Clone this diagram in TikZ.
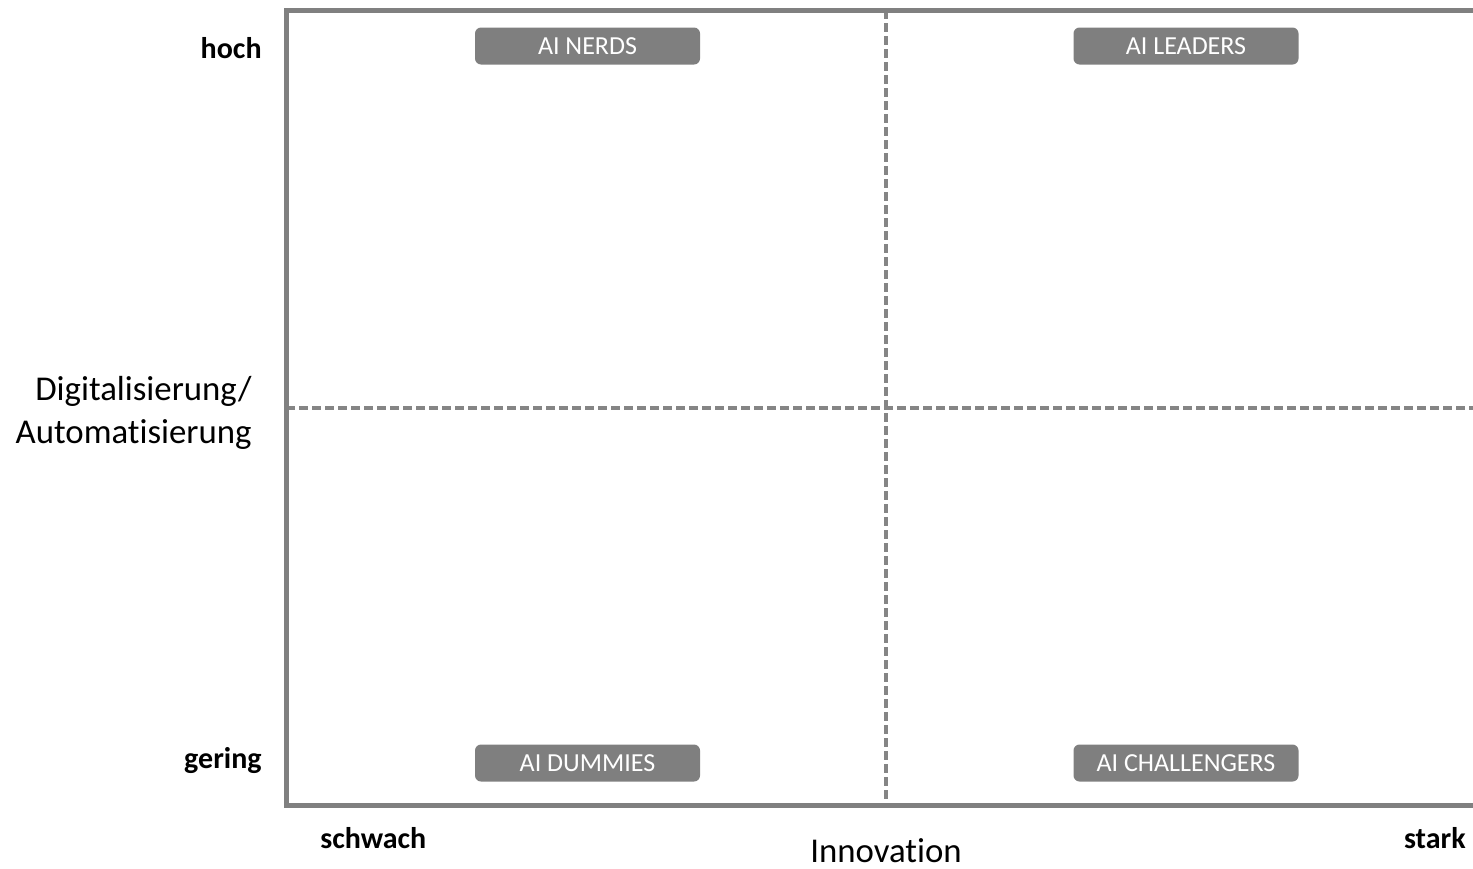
\documentclass[tikz,border=0pt]{standalone}
\usepackage{fontspec}
\setmainfont{Carlito}[Ligatures={NoCommon,NoContextual}]
\definecolor{framegray}{HTML}{808080}
\definecolor{dashgray}{HTML}{858585}
\definecolor{boxgray}{HTML}{7F7F7F}
\begin{document}
\begin{tikzpicture}[x=0.5pt,y=-0.5pt,
  quadbox/.style={draw=none,fill=boxgray,rounded corners=3pt,minimum width=112.5pt,minimum height=18.5pt,inner sep=0pt,text=white,font=\fontsize{13}{15}\selectfont},
  levellabel/.style={font=\fontsize{15}{18}\selectfont\bfseries,inner sep=0pt},
  axislabel/.style={font=\fontsize{17.4}{21.5}\selectfont,inner sep=0pt},
  framestroke/.style={draw=framegray,line width=2.5pt},
  dividerline/.style={draw=dashgray,line width=1.6pt,dash pattern=on 4.5pt off 2pt}]
\useasboundingbox (0,0) rectangle (1473,868);
\coordinate (tr) at (1473,10);
\coordinate (tl) at (286,10);
\coordinate (bl) at (286,805);
\coordinate (br) at (1473,805);
\coordinate (vt) at (886,10);
\coordinate (vb) at (886,805);
\coordinate (hl) at (286,408);
\coordinate (hr) at (1473,408);
\draw[dividerline] (vt) -- (vb);
\draw[dividerline] (hl) -- (hr);
\draw[framestroke,line join=miter] (tr) -- (tl) -- (bl) -- (br);
\node[quadbox] (nerds) at (587.5,46) {AI NERDS};
\node[quadbox] (leaders) at (1186,46) {AI LEADERS};
\node[quadbox] (dummies) at (587.5,763) {AI DUMMIES};
\node[quadbox] (challengers) at (1186,763) {AI CHALLENGERS};
\node[levellabel,anchor=base east] (hoch) at (262,58) {hoch};
\node[levellabel,anchor=base east] (gering) at (262,768) {gering};
\node[levellabel,anchor=base west] (schwach) at (320,848) {schwach};
\node[levellabel,anchor=base east] (stark) at (1466,848) {stark};
\node[axislabel,anchor=base] (innov) at (886,862) {Innovation};
\node[axislabel,anchor=east,align=right] (digi) at (252,413) {Digitalisierung/\\Automatisierung};
\end{tikzpicture}
\end{document}
